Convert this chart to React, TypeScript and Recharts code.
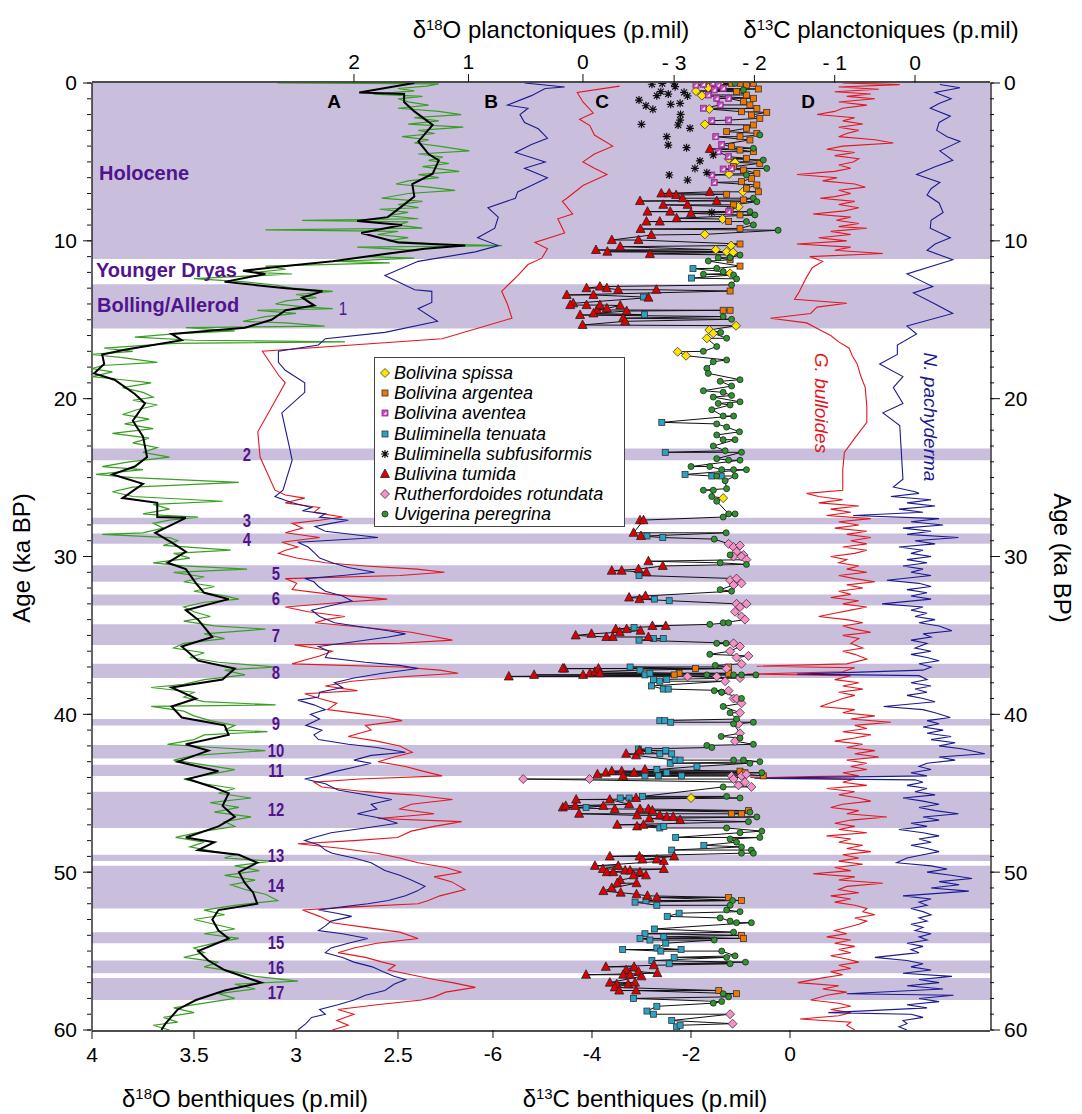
import React from 'react'
import { ComposedChart, Scatter, XAxis, YAxis, ReferenceArea } from 'recharts'

// [age (ka BP), value (p.mil)]
type P = [number, number]

const FONT = '"Liberation Sans", Arial, Helvetica, sans-serif'
const BAND = '#c9bfdd'
const PURPLE = '#50148c'
const RED = '#e3171f'
const BLUE = '#1b1b8f'
const GREEN = '#3a9e23'

const AGE_TICKS = [0, 10, 20, 30, 40, 50, 60]
const AGE_MINOR = Array.from({ length: 61 }, (_, i) => i)
const O18B_TICKS = [4, 3.5, 3, 2.5]
const C13B_TICKS = [-6, -4, -2, 0]
const O18P_TICKS = [2, 1, 0]
const C13P_TICKS = [-3, -2, -1, 0]

// shaded intervals (Holocene, Bolling/Allerod, events 2..17)
const BANDS: P[] = [
  [0, 11.15], [12.75, 15.55], [23.15, 23.9], [27.55, 27.95], [28.55, 29.2], [30.55, 31.6],
  [32.4, 33.1], [34.3, 35.6], [36.8, 37.7], [40.3, 40.7], [41.95, 42.8], [43.2, 43.9],
  [44.9, 47.2], [48.9, 49.3], [49.6, 52.3], [53.8, 54.5], [55.6, 56.4], [56.7, 58.1],
]

const EVENT_LABELS: [string, number, number][] = [
  ['2', 247, 454], ['3', 247, 520], ['4', 247, 539], ['5', 276, 573], ['6', 276, 598],
  ['7', 276, 635], ['8', 276, 672], ['9', 276, 723], ['10', 276, 750], ['11', 276, 770],
  ['12', 276, 809], ['13', 276, 855], ['14', 276, 885], ['15', 276, 942], ['16', 276, 967],
  ['17', 276, 992],
]

/* ------------------------------ A : d18O benthic ------------------------------ */

const o18BenthSmooth: P[] = [
  [0, 2.42], [0.6, 2.69], [0.7, 2.47], [1.2, 2.47], [1.8, 2.42], [2.65, 2.33], [3.7, 2.4],
  [4.5, 2.35], [4.9, 2.3], [5.75, 2.33], [6.4, 2.43], [7.2, 2.42], [7.8, 2.48], [8.5, 2.55],
  [8.75, 2.7], [9.0, 2.48], [9.5, 2.68], [10.1, 2.5], [10.3, 2.17], [10.5, 2.37], [10.9, 2.6],
  [11.3, 2.82], [11.6, 3.05], [11.9, 3.26], [12.1, 3.15], [12.6, 3.35], [13.0, 3.05],
  [13.2, 2.87], [13.6, 2.97], [14.1, 2.91], [14.4, 3.05], [15.0, 3.12], [15.5, 3.25],
  [15.9, 3.61], [16.3, 3.56], [16.9, 3.84], [17.2, 3.95], [17.8, 3.94], [18.4, 3.99],
  [18.8, 3.89], [19.7, 3.79], [20.3, 3.74], [21.4, 3.8], [22.4, 3.75], [23.7, 3.73],
  [24.3, 3.79], [24.8, 3.9], [25.4, 3.75], [26.3, 3.85], [26.6, 3.68], [27.5, 3.68],
  [27.55, 3.54], [28.5, 3.69], [29.1, 3.61], [29.7, 3.54], [30.4, 3.63], [30.8, 3.54],
  [31.7, 3.49], [32.3, 3.45], [32.7, 3.33], [33.4, 3.54], [34.0, 3.48], [35.1, 3.41],
  [35.7, 3.56], [36.6, 3.48], [37.1, 3.3], [37.8, 3.36], [38.3, 3.61], [39.0, 3.49],
  [39.5, 3.61], [40.2, 3.56], [40.7, 3.35], [41.3, 3.33], [41.9, 3.54], [42.3, 3.43],
  [43.0, 3.58], [43.6, 3.38], [44.1, 3.53], [44.6, 3.41], [45.0, 3.33], [45.8, 3.36],
  [46.5, 3.3], [47.1, 3.38], [47.8, 3.54], [48.1, 3.4], [48.6, 3.48], [48.9, 3.28],
  [49.4, 3.19], [50.0, 3.28], [50.7, 3.25], [51.3, 3.21], [52.0, 3.19], [52.4, 3.38],
  [53.0, 3.41], [53.7, 3.38], [54.2, 3.33], [55.0, 3.48], [55.6, 3.43], [56.2, 3.35],
  [57.0, 3.17], [57.5, 3.35], [58.1, 3.49], [58.7, 3.58], [59.6, 3.64], [60, 3.66],
]

const o18BenthRaw: P[] = [
  [0, 3.09], [0.05, 2.3], [0.2, 2.36], [0.35, 2.5], [0.5, 2.42], [0.7, 2.62], [0.85, 2.38],
  [1.0, 2.5], [1.2, 2.45], [1.4, 2.35], [1.6, 2.5], [1.8, 2.3], [2.0, 2.19], [2.2, 2.42],
  [2.4, 2.3], [2.6, 2.45], [2.8, 2.18], [3.0, 2.4], [3.2, 2.32], [3.4, 2.48], [3.6, 2.35],
  [3.8, 2.42], [4.0, 2.3], [4.3, 2.15], [4.5, 2.4], [4.7, 2.28], [4.9, 2.35], [5.1, 2.25],
  [5.3, 2.38], [5.6, 2.2], [5.8, 2.4], [6.0, 2.3], [6.2, 2.45], [6.4, 2.51], [6.6, 2.35],
  [6.8, 2.22], [7.0, 2.45], [7.3, 2.58], [7.5, 2.38], [7.7, 2.5], [7.9, 2.4], [8.0, 2.59],
  [8.2, 2.45], [8.4, 2.55], [8.6, 2.4], [8.7, 2.97], [8.8, 2.45], [9.0, 2.5], [9.2, 2.38],
  [9.3, 3.15], [9.4, 2.5], [9.6, 2.6], [9.8, 2.45], [10.0, 2.55], [10.2, 2.3], [10.3, 1.99],
  [10.4, 2.7], [10.6, 2.4], [10.8, 2.55], [11.0, 2.65], [11.1, 2.42], [11.3, 2.8], [11.4, 2.54],
  [11.6, 3.15], [11.8, 3.05], [12.0, 3.2], [12.1, 3.02], [12.4, 3.5], [12.6, 3.25], [12.8, 3.1],
  [13.0, 3.02], [13.2, 2.82], [13.4, 3.0], [13.6, 2.9], [13.8, 3.05], [14.0, 3.1], [14.2, 2.95],
  [14.3, 2.82], [14.4, 3.19], [14.6, 3.0], [14.8, 3.15], [15.1, 3.26], [15.2, 3.05], [15.4, 2.86],
  [15.5, 3.54], [15.7, 3.3], [15.9, 3.6], [16.1, 3.79], [16.3, 3.5], [16.4, 2.76], [16.5, 3.6],
  [16.8, 3.94], [17.0, 3.8], [17.2, 4.0], [17.4, 3.85], [17.7, 3.68], [17.9, 3.95], [18.1, 4.0],
  [18.3, 3.9], [18.6, 4.0], [18.8, 3.85], [19.0, 3.71], [19.3, 3.85], [19.6, 3.75], [19.9, 3.7],
  [20.1, 3.8], [20.4, 3.68], [20.7, 3.78], [21.0, 3.85], [21.3, 3.72], [21.6, 3.84], [21.9, 3.7],
  [22.2, 3.9], [22.5, 3.72], [22.8, 3.8], [23.1, 3.68], [23.4, 3.75], [23.7, 3.62], [24.0, 3.82],
  [24.3, 3.95], [24.5, 3.75], [24.8, 3.98], [25.0, 3.8], [25.3, 3.28], [25.6, 3.8], [25.9, 3.9],
  [26.2, 3.8], [26.5, 3.36], [26.7, 3.7], [27.0, 3.62], [27.3, 3.75], [27.4, 3.65], [27.5, 3.48],
  [27.7, 3.62], [27.9, 3.7], [28.2, 3.65], [28.5, 3.75], [28.6, 3.95], [28.8, 3.62], [29.0, 3.58],
  [29.3, 3.65], [29.6, 3.32], [29.8, 3.6], [30.1, 3.52], [30.4, 3.7], [30.6, 3.55], [30.8, 3.24],
  [31.0, 3.6], [31.3, 3.45], [31.6, 3.55], [31.9, 3.4], [32.2, 3.5], [32.5, 3.35], [32.7, 3.28],
  [32.9, 3.45], [33.2, 3.55], [33.5, 3.5], [33.8, 3.42], [34.1, 3.55], [34.4, 3.4], [34.6, 3.15],
  [34.9, 3.45], [35.2, 3.35], [35.5, 3.55], [35.8, 3.6], [36.1, 3.45], [36.4, 3.52], [36.7, 3.38],
  [37.0, 3.1], [37.2, 3.35], [37.5, 3.25], [37.8, 3.45], [38.1, 3.55], [38.3, 3.71], [38.6, 3.5],
  [38.9, 3.55], [39.2, 3.45], [39.4, 3.1], [39.5, 3.71], [39.8, 3.55], [40.1, 3.5], [40.4, 3.42],
  [40.7, 3.3], [41.0, 3.35], [41.1, 3.14], [41.3, 3.45], [41.6, 3.5], [41.9, 3.63], [42.1, 3.4],
  [42.3, 3.15], [42.6, 3.5], [42.9, 3.6], [43.2, 3.45], [43.5, 3.3], [43.8, 3.42], [44.1, 3.55],
  [44.4, 3.45], [44.7, 3.3], [45.0, 3.38], [45.3, 3.22], [45.6, 3.42], [45.9, 3.28], [46.2, 3.4],
  [46.5, 3.22], [46.8, 3.35], [47.1, 3.3], [47.4, 3.45], [47.8, 3.59], [48.1, 3.45], [48.4, 3.52],
  [48.7, 3.4], [48.9, 3.3], [49.1, 3.35], [49.3, 3.12], [49.6, 3.3], [49.9, 3.18], [50.2, 3.35],
  [50.5, 3.2], [50.8, 3.32], [51.1, 3.25], [51.4, 3.15], [51.8, 3.09], [52.1, 3.3], [52.4, 3.45],
  [52.7, 3.35], [53.0, 3.5], [53.3, 3.4], [53.6, 3.3], [53.9, 3.45], [54.2, 3.28], [54.5, 3.4],
  [54.8, 3.5], [55.1, 3.45], [55.4, 3.55], [55.7, 3.38], [56.0, 3.45], [56.3, 3.3], [56.6, 3.2],
  [56.9, 2.99], [57.1, 3.3], [57.4, 3.2], [57.7, 3.38], [58.0, 3.3], [58.3, 3.45], [58.6, 3.6],
  [58.9, 3.5], [59.2, 3.65], [59.5, 3.58], [59.7, 3.7], [60, 3.62],
]

/* --------------------------- B : d18O planktonic ----------------------------- */

const o18PachyB: P[] = [
  [0, 0.51], [0.25, 0.16], [0.35, 0.33], [0.8, 0.45], [1.4, 0.66], [1.6, 0.48], [2.0, 0.55],
  [2.5, 0.51], [2.9, 0.39], [3.5, 0.31], [3.9, 0.45], [4.4, 0.59], [5.0, 0.33], [5.4, 0.51],
  [6.0, 0.31], [6.5, 0.45], [6.9, 0.57], [7.3, 0.59], [7.9, 0.83], [8.5, 0.74], [9.2, 0.77],
  [9.8, 0.92], [10.3, 0.74], [10.7, 0.94], [11.3, 1.44], [12.2, 1.73], [13.1, 1.47], [13.2, 1.32],
  [13.9, 1.32], [14.3, 1.44], [15.1, 1.27], [15.8, 1.73], [16.2, 2.25], [16.6, 2.31], [17.0, 2.66],
  [17.7, 2.66], [18.2, 2.6], [19.0, 2.43], [19.6, 2.43], [20.9, 2.63], [23.2, 2.56], [23.9, 2.54],
  [25.8, 2.62], [26.2, 2.69], [26.6, 2.54], [26.9, 2.37], [27.1, 2.45], [27.3, 2.25], [27.5, 2.3],
  [27.7, 2.05], [27.9, 2.2], [28.1, 2.34], [28.4, 2.25], [28.8, 1.79], [29.1, 2.49], [29.4, 2.4],
  [29.8, 2.34], [30.1, 2.3], [30.4, 2.19], [30.7, 2.05], [31.0, 1.82], [31.2, 2.1], [31.4, 2.43],
  [31.6, 2.35], [31.9, 2.31], [32.2, 2.25], [32.5, 2.1], [32.8, 2.02], [33.1, 2.2], [33.4, 2.37],
  [33.8, 2.3], [34.2, 2.17], [34.5, 1.9], [34.7, 1.7], [34.9, 1.55], [35.1, 1.7], [35.4, 2.0],
  [35.7, 2.31], [36.0, 2.22], [36.4, 2.25], [36.7, 1.9], [36.9, 1.6], [37.1, 1.44], [37.4, 1.75],
  [37.7, 2.0], [38.0, 2.17], [38.3, 2.1], [38.6, 2.3], [38.9, 2.31], [39.1, 2.49], [39.4, 2.35],
  [39.7, 2.25], [40.0, 2.38], [40.3, 2.3], [40.7, 2.42], [41.0, 2.28], [41.3, 2.35], [41.6, 2.31],
  [41.9, 2.05], [42.1, 1.8], [42.4, 1.55], [42.6, 1.85], [42.9, 2.0], [43.1, 1.85], [43.3, 1.97],
  [43.6, 2.15], [43.9, 2.3], [44.1, 2.43], [44.4, 2.25], [44.8, 2.14], [45.1, 1.9], [45.4, 1.67],
  [45.7, 1.85], [46.0, 1.8], [46.3, 1.97], [46.6, 1.75], [46.9, 1.62], [47.2, 1.9], [47.5, 2.2],
  [47.8, 2.35], [48.0, 2.43], [48.3, 2.3], [48.6, 2.25], [48.8, 2.19], [49.1, 2.0], [49.4, 1.85],
  [49.9, 1.73], [50.2, 1.6], [50.5, 1.5], [50.9, 1.38], [51.2, 1.45], [51.5, 1.55], [51.8, 1.7],
  [52.0, 1.88], [52.2, 2.1], [52.4, 2.31], [52.6, 2.15], [52.8, 2.02], [53.1, 2.2], [53.4, 2.25],
  [53.7, 2.31], [53.9, 2.1], [54.2, 1.88], [54.5, 2.05], [54.8, 2.2], [55.1, 2.25], [55.4, 2.1],
  [55.7, 2.0], [56.0, 1.84], [56.3, 1.75], [56.6, 1.65], [56.8, 1.55], [57.1, 1.65], [57.5, 1.73],
  [57.8, 1.9], [58.1, 2.0], [58.4, 2.14], [58.7, 2.3], [59.0, 2.25], [59.2, 2.37], [59.6, 2.42],
  [60, 2.49],
]

const o18BullB: P[] = [
  [0.2, -0.32], [0.6, 0.05], [1.2, 0.0], [1.9, -0.09], [2.3, 0.03], [2.7, -0.06], [3.3, -0.1],
  [4.0, -0.26], [4.5, -0.1], [5.0, 0.0], [5.4, -0.1], [5.8, -0.21], [6.5, 0.0], [7.3, 0.14],
  [7.5, 0.18], [8.3, 0.09], [8.6, 0.22], [9.5, 0.16], [10.1, 0.42], [10.5, 0.31], [11.1, 0.36],
  [11.5, 0.48], [12.2, 0.57], [13.2, 0.71], [14.0, 0.66], [14.9, 0.62], [16.2, 1.23], [17.0, 2.8],
  [18.5, 2.66], [19.0, 2.6], [22.1, 2.84], [23.7, 2.82], [25.8, 2.69], [26.1, 2.6], [26.3, 2.43],
  [26.6, 2.6], [26.9, 2.3], [27.2, 2.35], [27.5, 2.1], [27.7, 2.3], [27.9, 2.54], [28.2, 2.45],
  [28.5, 2.6], [28.8, 2.3], [29.1, 2.63], [29.4, 2.49], [29.6, 2.6], [29.8, 2.66], [30.1, 2.5],
  [30.4, 2.25], [30.6, 1.9], [30.8, 1.45], [31.0, 1.21], [31.2, 1.6], [31.4, 2.6], [31.7, 2.5],
  [32.1, 2.54], [32.4, 2.2], [32.7, 1.71], [32.9, 2.1], [33.2, 2.6], [33.5, 2.4], [33.8, 2.08],
  [34.0, 2.25], [34.2, 2.34], [34.5, 1.9], [34.8, 1.5], [35.0, 1.35], [35.3, 1.14], [35.5, 1.6],
  [35.6, 2.52], [35.8, 2.35], [36.0, 2.19], [36.3, 2.3], [36.6, 2.45], [36.8, 2.54], [37.0, 1.6],
  [37.2, 1.25], [37.4, 1.09], [37.6, 1.55], [37.9, 2.02], [38.2, 2.25], [38.5, 1.97], [38.7, 2.43],
  [39.0, 2.3], [39.3, 2.15], [39.7, 2.23], [40.0, 1.9], [40.2, 1.7], [40.4, 1.58], [40.7, 1.9],
  [41.0, 1.85], [41.4, 2.05], [41.7, 1.8], [42.0, 1.6], [42.4, 1.49], [42.7, 1.65], [43.0, 1.79],
  [43.3, 1.55], [43.6, 1.4], [43.9, 1.23], [44.1, 1.95], [44.3, 2.35], [44.6, 2.28], [44.9, 1.9],
  [45.1, 1.5], [45.4, 1.14], [45.7, 1.5], [46.0, 1.6], [46.3, 1.3], [46.6, 1.79], [46.8, 1.06],
  [47.1, 1.3], [47.4, 1.5], [47.8, 1.62], [48.0, 2.0], [48.2, 2.49], [48.5, 2.1], [48.8, 1.8],
  [49.1, 1.6], [49.4, 1.44], [49.7, 1.2], [50.0, 1.06], [50.3, 1.3], [50.6, 1.15], [51.1, 1.03],
  [51.5, 1.25], [51.8, 1.35], [52.0, 1.44], [52.2, 2.0], [52.4, 2.45], [52.8, 2.3], [53.2, 2.19],
  [53.5, 1.9], [53.8, 1.6], [54.2, 1.44], [54.5, 1.8], [54.8, 2.0], [55.1, 2.14], [55.4, 1.9],
  [55.7, 1.75], [55.9, 1.64], [56.2, 1.7], [56.5, 1.5], [56.8, 1.3], [57.0, 1.14], [57.3, 0.94],
  [57.6, 1.2], [57.9, 1.3], [58.1, 1.41], [58.4, 1.8], [58.7, 2.14], [59.0, 2.0], [59.4, 2.15],
  [59.7, 2.05], [60, 2.19],
]

/* --------------------------- D : d13C planktonic ----------------------------- */

const c13BullD: P[] = [
  [0.0, -0.9], [0.1, -0.19], [0.25, -0.95], [0.4, -0.45], [0.55, -1.0], [0.7, -0.55], [0.85, -0.85],
  [1.0, -0.5], [1.2, -0.95], [1.4, -0.6], [1.6, -0.9], [1.8, -1.0], [2.0, -1.22], [2.2, -0.75],
  [2.4, -0.9], [2.6, -0.65], [2.8, -0.95], [3.0, -0.7], [3.2, -0.85], [3.4, -0.95], [3.6, -0.5],
  [3.8, -0.27], [4.0, -0.9], [4.2, -1.1], [4.4, -0.75], [4.6, -1.0], [4.8, -0.7], [5.0, -0.77],
  [5.2, -0.95], [5.4, -0.8], [5.6, -1.0], [5.8, -1.47], [6.0, -0.97], [6.2, -1.15], [6.4, -0.75],
  [6.6, -0.62], [6.8, -0.95], [7.0, -0.8], [7.2, -1.0], [7.3, -1.18], [7.5, -0.75], [7.7, -0.95],
  [7.9, -0.7], [8.1, -0.88], [8.3, -1.27], [8.5, -0.8], [8.7, -0.98], [8.9, -0.7], [9.1, -0.95],
  [9.2, -0.6], [9.4, -1.05], [9.6, -0.8], [9.8, -1.2], [10.0, -0.85], [10.2, -1.47], [10.4, -0.8],
  [10.6, -1.0], [10.8, -0.4], [11.0, -1.31], [11.3, -1.15], [11.7, -1.28], [12.3, -1.35],
  [12.8, -1.4], [13.3, -1.45], [13.7, -1.5], [13.95, -0.85], [14.2, -1.22], [14.6, -1.3],
  [14.9, -1.8], [15.2, -1.35], [15.6, -1.2], [16.0, -1.05], [16.4, -0.95], [16.8, -0.82],
  [17.3, -0.78], [17.8, -0.72], [18.5, -0.68], [19.3, -0.62], [20.5, -0.6], [21.5, -0.6],
  [22.5, -0.75], [23.4, -0.88], [24.5, -0.9], [25.8, -0.9], [26.0, -1.35], [26.2, -1.2],
  [26.4, -0.9], [26.6, -1.2], [26.8, -0.7], [27.0, -1.05], [27.2, -0.8], [27.4, -1.1], [27.6, -0.55],
  [27.8, -0.95], [28.0, -0.7], [28.2, -1.0], [28.4, -0.6], [28.6, -0.85], [28.8, -0.55], [29.0, -0.8],
  [29.2, -0.6], [29.4, -0.9], [29.6, -0.6], [29.8, -0.75], [30.0, -1.05], [30.2, -0.85], [30.4, -0.95],
  [30.6, -0.7], [30.8, -0.85], [31.0, -0.6], [31.2, -0.95], [31.4, -0.75], [31.6, -0.5], [31.8, -0.85],
  [32.0, -0.65], [32.2, -0.95], [32.4, -0.8], [32.6, -1.05], [32.8, -0.7], [33.0, -0.9], [33.2, -0.6],
  [33.4, -0.8], [33.6, -1.0], [33.8, -1.2], [34.0, -0.85], [34.2, -0.65], [34.4, -0.9], [34.6, -0.75],
  [34.8, -0.55], [35.0, -0.9], [35.2, -0.7], [35.5, -0.8], [35.8, -0.65], [36.0, -0.9], [36.2, -0.75],
  [36.5, -0.6], [36.8, -0.85], [36.95, -1.97], [37.05, -0.75], [37.3, -0.9], [37.45, -2.1],
  [37.55, -0.8], [37.8, -1.0], [38.0, -0.7], [38.2, -0.9], [38.4, -0.65], [38.6, -0.95], [38.8, -0.75],
  [39.0, -0.9], [39.5, -1.18], [39.7, -0.75], [39.9, -0.9], [40.1, -0.5], [40.3, -0.8], [40.5, -0.3],
  [40.7, -0.75], [40.9, -0.6], [41.1, -0.9], [41.3, -0.55], [41.5, -0.75], [41.7, -1.0], [41.9, -0.65],
  [42.1, -0.85], [42.3, -0.5], [42.5, -0.75], [42.7, -0.45], [42.9, -0.85], [43.1, -0.6], [43.3, -0.8],
  [43.5, -0.6], [43.7, -0.9], [43.9, -0.7], [44.0, -2.05], [44.1, -0.75], [44.3, -0.9], [44.5, -0.6],
  [44.7, -1.1], [44.9, -0.75], [45.1, -0.95], [45.3, -0.7], [45.5, -0.55], [45.7, -0.9], [45.9, -1.05],
  [46.1, -0.7], [46.3, -0.85], [46.5, -0.35], [46.7, -0.8], [46.9, -1.0], [47.1, -0.75], [47.3, -0.95],
  [47.5, -0.6], [47.7, -1.1], [47.9, -0.8], [48.1, -0.95], [48.3, -0.65], [48.5, -0.85], [48.7, -0.55],
  [48.9, -0.9], [49.1, -0.7], [49.3, -0.95], [49.5, -0.65], [49.7, -1.0], [49.9, -0.8], [50.1, -1.27],
  [50.3, -0.75], [50.5, -0.95], [50.7, -0.4], [50.9, -0.85], [51.1, -0.95], [51.3, -0.7], [51.5, -1.05],
  [51.7, -0.8], [51.9, -1.0], [52.1, -0.75], [52.3, -0.6], [52.5, -0.65], [52.7, -0.5], [52.9, -0.75],
  [53.1, -0.6], [53.3, -0.7], [53.5, -0.85], [53.7, -1.0], [53.9, -0.85], [54.1, -1.1], [54.3, -0.8],
  [54.5, -1.0], [54.7, -0.75], [54.9, -0.95], [55.1, -0.8], [55.3, -1.05], [55.5, -0.85], [55.7, -0.7],
  [55.9, -0.95], [56.1, -0.8], [56.3, -1.05], [56.5, -0.9], [56.7, -1.15], [57.0, -1.46], [57.2, -0.95],
  [57.4, -1.15], [57.6, -0.85], [57.8, -1.1], [58.1, -1.3], [58.3, -0.95], [58.5, -0.8], [58.7, -1.05],
  [58.9, -0.8], [59.1, -0.95], [59.3, -1.43], [59.5, -0.8], [59.7, -0.85], [60, -0.75],
]

const c13PachyD: P[] = [
  [0.1, 0.31], [0.3, 0.56], [0.6, 0.25], [1.0, 0.45], [1.3, 0.3], [1.6, 0.19], [2.1, 0.44],
  [2.5, 0.3], [3.0, 0.27], [3.4, 0.4], [3.7, 0.56], [4.3, 0.31], [4.9, 0.47], [5.3, 0.25],
  [5.8, 0.02], [6.3, 0.31], [6.7, 0.2], [7.1, 0.15], [7.6, 0.3], [8.2, 0.35], [8.7, 0.2],
  [9.2, 0.19], [9.8, 0.44], [10.2, 0.25], [10.6, 0.15], [11.2, 0.47], [12.1, -0.1], [12.9, 0.22],
  [13.3, -0.02], [14.0, 0.25], [14.6, 0.47], [15.4, -0.1], [15.9, 0.02], [16.6, -0.22],
  [17.2, -0.22], [17.8, -0.44], [18.6, -0.15], [19.3, -0.27], [20.3, -0.15], [20.9, -0.4],
  [21.7, -0.19], [25.1, -0.15], [25.6, -0.27], [25.9, 0.0], [26.0, 0.05], [26.2, -0.3], [26.4, 0.2],
  [26.6, -0.1], [26.8, 0.25], [27.0, -0.2], [27.2, 0.1], [27.4, -0.77], [27.6, 0.3], [27.8, -0.05],
  [28.0, 0.35], [28.2, -0.15], [28.4, 0.2], [28.6, -0.1], [28.8, 0.54], [29.0, 0.0], [29.2, 0.25],
  [29.4, -0.2], [29.6, 0.1], [29.8, -0.05], [30.0, 0.2], [30.2, -0.1], [30.4, 0.15], [30.6, -0.15],
  [30.8, 0.1], [31.0, -0.05], [31.2, 0.2], [31.5, -0.35], [31.7, 0.05], [31.9, 0.2], [32.1, -0.1],
  [32.3, 0.15], [32.5, -0.05], [32.7, 0.2], [33.0, -0.41], [33.2, 0.1], [33.4, -0.05], [33.6, 0.15],
  [33.8, 0.0], [34.0, 0.25], [34.2, 0.05], [34.4, 0.3], [34.7, 0.46], [34.9, 0.1], [35.1, 0.2],
  [35.3, -0.05], [35.5, 0.15], [35.8, 0.0], [36.0, 0.2], [36.2, -0.05], [36.4, 0.15], [36.6, 0.3],
  [36.8, 0.05], [37.0, 0.2], [37.2, 0.1], [37.45, -1.47], [37.55, 0.05], [37.8, 0.15], [38.0, -0.05],
  [38.2, 0.2], [38.4, 0.0], [38.6, 0.15], [38.8, -0.1], [39.0, 0.1], [39.2, 0.25], [39.5, -0.39],
  [39.7, 0.1], [39.9, 0.25], [40.2, 0.44], [40.4, 0.15], [40.6, 0.3], [40.8, 0.1], [41.0, 0.35],
  [41.2, 0.15], [41.4, 0.45], [41.6, 0.2], [41.8, 0.5], [42.0, 0.3], [42.2, 0.6], [42.5, 0.87],
  [42.7, 0.3], [42.9, 0.5], [43.1, 0.15], [43.3, 0.05], [43.5, 0.2], [43.7, -0.05], [43.9, 0.15],
  [44.05, -2.0], [44.15, 0.0], [44.3, 0.1], [44.5, -0.1], [44.7, 0.15], [44.9, 0.0], [45.1, 0.25],
  [45.3, -0.15], [45.5, 0.1], [45.7, 0.3], [45.9, 0.05], [46.1, 0.25], [46.3, 0.54], [46.5, 0.1],
  [46.7, 0.3], [46.9, -0.05], [47.1, 0.15], [47.3, -0.2], [47.5, 0.1], [47.7, 0.3], [47.9, 0.05],
  [48.1, 0.2], [48.3, -0.05], [48.5, 0.15], [48.7, 0.3], [48.9, 0.1], [49.1, -0.1], [49.4, -0.23],
  [49.6, 0.2], [49.8, 0.4], [50.0, 0.15], [50.2, 0.45], [50.4, 0.71], [50.6, 0.3], [50.8, 0.55],
  [51.0, 0.2], [51.2, 0.67], [51.5, -0.15], [51.7, 0.2], [51.9, 0.05], [52.1, 0.15], [52.3, -0.05],
  [52.5, 0.1], [52.7, 0.2], [52.9, 0.05], [53.1, 0.15], [53.3, -0.05], [53.5, 0.1], [53.7, 0.0],
  [53.9, 0.2], [54.1, 0.05], [54.3, 0.15], [54.5, -0.1], [54.7, 0.1], [54.9, -0.05], [55.1, 0.05],
  [55.4, -0.5], [55.6, -0.1], [55.8, 0.1], [56.0, -0.05], [56.2, 0.2], [56.4, -0.15], [56.6, 0.46],
  [56.8, 0.05], [57.0, 0.3], [57.2, -0.1], [57.4, 0.35], [57.7, -0.85], [57.8, 0.48], [58.0, 0.05],
  [58.2, 0.3], [58.4, -0.1], [58.6, 0.15], [58.9, -1.08], [59.0, -0.05], [59.2, 0.1], [59.4, -0.15],
  [59.6, -0.1], [59.8, -0.2], [60, -0.1],
]

/* ------------------------ C : d13C benthic, by species ------------------------ */

const spissa: P[] = [
  [0.02, -1.43], [0.3, -1.65], [0.51, -1.9], [0.8, -1.78], [1.65, -1.63], [2.62, -1.72], [4.8, -1.24],
  [5.03, -1.11], [5.77, -1.23], [6.89, -0.95], [7.84, -1.04], [8.62, -1.36], [9.59, -1.72],
  [10.3, -1.19], [10.56, -1.5], [10.69, -1.28], [10.73, -1.15], [12.06, -1.21], [15.38, -1.09],
  [15.65, -1.63], [15.86, -1.55], [16.18, -1.68], [17.03, -2.27], [17.28, -2.1], [26.3, -1.35],
  [45.3, -2.0],
]

const argentea: P[] = [
  [0.02, -1.18], [0.02, -1.01], [0.13, -0.88], [0.02, -0.74], [0.38, -0.64], [0.55, -1.08],
  [0.76, -0.88], [0.97, -0.74], [1.18, -0.94], [1.39, -0.81], [1.61, -0.67], [1.86, -0.47],
  [1.82, -0.98], [2.03, -0.78], [2.24, -0.61], [2.66, -0.74], [2.87, -0.88], [3.08, -1.28],
  [3.19, -0.67], [3.4, -1.01], [3.61, -0.81], [4.03, -1.18], [4.25, -1.01], [4.35, -0.74],
  [4.77, -0.88], [5.09, -0.61], [5.3, -1.14], [5.51, -0.94], [5.72, -0.67], [6.04, -0.78],
  [6.25, -0.98], [6.46, -0.67], [6.67, -0.88], [6.89, -0.64], [7.05, -1.28], [7.41, -0.94],
  [7.72, -1.14], [8.05, -1.21], [8.36, -1.01], [8.78, -1.24], [9.21, -1.01], [10.2, -1.01],
  [11.2, -1.21], [11.6, -1.01], [13.18, -1.21], [14.4, -1.35], [14.4, -1.21], [37.0, -1.24],
  [37.1, -1.91], [37.4, -2.24], [37.5, -2.34], [37.4, -1.24], [43.6, -1.01], [43.7, -0.91],
  [43.9, -0.54], [46.1, -0.84], [46.3, -1.18], [46.3, -0.98], [51.6, -1.24], [51.8, -0.98],
  [54.0, -0.98], [54.2, -0.94], [57.5, -1.44], [57.7, -1.08],
]

const aventea: P[] = [
  [0.13, -1.9], [0.08, -1.75], [0, -1.56], [0.13, -1.45], [0.44, -1.53], [0.34, -1.35], [0.76, -1.65],
  [0.97, -1.48], [0.97, -1.24], [1.39, -1.41], [1.6, -1.75], [2.35, -1.24], [2.39, -1.58], [3.4, -1.5],
  [3.89, -1.38], [4.35, -1.45], [4.67, -1.24], [5.45, -1.35], [5.41, -1.18], [5.83, -1.58],
  [6.3, -1.53], [8.15, -1.24],
]

const tenuata: P[] = [
  [11.76, -1.96], [12.36, -1.99], [13.56, -2.96], [14.68, -2.94], [21.5, -2.59], [23.4, -2.52],
  [24.8, -2.12], [24.9, -1.58], [24.9, -1.39], [28.7, -2.89], [28.8, -2.57], [31.2, -3.05],
  [32.7, -2.74], [32.8, -2.44], [34.5, -3.15], [35.3, -3.05], [35.2, -2.76], [35.2, -2.56],
  [37.0, -3.23], [37.2, -3.03], [37.5, -2.93], [37.4, -2.83], [37.8, -2.76], [37.9, -2.63],
  [37.8, -2.49], [38.2, -2.8], [38.4, -2.56], [38.4, -2.46], [40.4, -2.63], [40.4, -2.53],
  [40.5, -2.41], [42.2, -3.06], [42.3, -2.86], [42.5, -2.63], [42.3, -2.51], [42.5, -2.39],
  [43.1, -2.42], [42.9, -2.32], [42.9, -2.22], [43.3, -1.88], [43.5, -2.69], [43.7, -2.49],
  [43.9, -2.93], [43.9, -2.66], [43.9, -2.19], [45.3, -3.43], [45.3, -3.25], [45.2, -2.98],
  [45.9, -4.12], [47.2, -2.63], [47.1, -2.55], [47.8, -2.31], [48.3, -1.74], [48.6, -2.39],
  [51.9, -3.13], [51.8, -2.91], [52.1, -2.69], [52.8, -2.48], [52.6, -2.24], [53.6, -2.74],
  [53.9, -2.93], [54.2, -3.03], [54.3, -2.83], [54.1, -2.55], [54.8, -2.69], [54.5, -2.51],
  [55.0, -2.61], [54.9, -2.2], [54.9, -3.38], [55.4, -2.34], [55.8, -2.44], [55.6, -2.79],
  [58.0, -3.16], [58.5, -2.69], [58.8, -2.89], [59.0, -2.76], [59.4, -2.39], [59.8, -2.29],
  [59.7, -2.22],
]

const subfusiformis: P[] = [
  [0.08, -2.79], [0.03, -2.58], [0, -2.34], [0.23, -2.32], [0.55, -2.61], [0.8, -2.69], [0.7, -2.46],
  [0.59, -2.14], [0.82, -2.07], [1.08, -3.05], [1.44, -2.91], [1.67, -2.77], [1.35, -2.41],
  [1.29, -2.22], [1.99, -2.21], [2.35, -2.22], [2.66, -2.26], [2.87, -2.02], [2.62, -3.0],
  [3.4, -2.49], [3.93, -2.46], [4.1, -2.09], [4.56, -1.55], [4.94, -1.82], [5.41, -1.92],
  [5.68, -1.68], [5.83, -2.44], [6.15, -2.07], [8.2, -1.58],
]

const tumida: P[] = [
  [7.48, -3.03], [8.15, -2.88], [8.78, -2.9], [9.25, -3.02], [9.63, -2.8], [7.0, -2.6], [7.0, -2.44],
  [7.1, -2.3], [7.3, -2.17], [7.72, -2.07], [8.26, -2.0], [7.72, -2.56], [8.15, -2.42], [8.57, -2.29],
  [8.78, -2.63], [9.95, -3.6], [10.37, -3.43], [9.95, -3.06], [10.58, -3.92], [10.69, -3.69],
  [10.83, -2.83], [4.18, -1.62], [6.9, -1.62], [7.48, -1.48], [13.43, -4.51], [13.96, -4.38],
  [14.7, -4.24], [15.33, -4.19], [13.0, -4.11], [13.43, -3.97], [12.9, -3.84], [13.0, -3.7],
  [13.1, -3.47], [13.1, -2.7], [13.6, -2.86], [14.1, -3.43], [14.28, -3.7], [14.38, -3.9],
  [14.6, -3.97], [14.9, -3.37], [14.45, -3.3], [15.1, -3.33], [14.07, -4.44], [14.07, -4.11],
  [14.07, -3.84], [27.7, -3.03], [27.7, -2.96], [28.5, -3.16], [28.7, -3.01], [30.3, -2.86],
  [30.6, -2.57], [30.9, -3.6], [30.9, -3.4], [30.8, -3.06], [31.0, -2.9], [32.6, -3.25],
  [32.7, -3.04], [32.5, -2.92], [35.0, -4.33], [34.9, -4.01], [34.6, -3.52], [34.8, -3.44],
  [34.6, -3.3], [34.7, -3.02], [34.4, -2.78], [34.4, -2.51], [35.1, -3.71], [35.1, -3.58],
  [35.1, -2.86], [37.1, -4.56], [37.5, -4.18], [37.4, -4.04], [37.3, -3.94], [37.1, -3.87],
  [37.4, -3.84], [37.6, -5.68], [37.5, -5.17], [37.1, -4.59], [42.5, -3.31], [42.6, -3.11],
  [42.3, -3.04], [43.8, -3.89], [43.7, -3.72], [43.6, -3.6], [43.6, -3.4], [43.9, -3.37],
  [43.7, -3.15], [43.5, -2.93], [45.9, -4.59], [45.8, -4.53], [45.8, -4.34], [45.4, -4.32],
  [46.3, -4.26], [45.8, -3.77], [45.4, -3.64], [46.0, -3.54], [45.7, -3.25], [45.3, -3.11],
  [46.0, -3.03], [46.0, -2.86], [46.1, -2.78], [46.4, -3.09], [46.6, -2.84], [46.4, -2.63],
  [46.5, -2.49], [46.5, -2.36], [46.7, -2.22], [47.0, -3.49], [47.1, -3.09], [47.0, -2.96],
  [49.0, -3.64], [49.0, -3.04], [49.0, -2.34], [49.2, -2.98], [49.2, -2.69], [49.3, -2.55],
  [49.6, -3.94], [49.8, -3.78], [50.0, -3.7], [50.0, -3.57], [49.6, -3.47], [49.9, -3.33],
  [49.9, -3.23], [50.2, -3.16], [50.0, -3.03], [50.2, -2.91], [49.8, -2.55], [50.5, -3.43],
  [51.0, -3.6], [51.2, -3.77], [50.7, -3.49], [51.3, -3.42], [50.7, -3.1], [51.4, -3.1],
  [51.5, -2.88], [51.6, -2.69], [56.0, -3.72], [56.2, -3.31], [56.0, -3.15], [56.3, -3.06],
  [55.9, -2.75], [56.4, -2.68], [56.5, -4.12], [56.5, -3.37], [56.5, -3.23], [56.6, -3.0],
  [57.0, -3.64], [57.1, -3.5], [57.1, -3.27], [57.0, -3.13], [57.3, -3.54], [57.5, -3.45],
  [57.5, -3.11],
]

const rotundata: P[] = [
  [29.2, -1.24], [29.4, -1.14], [29.3, -1.01], [29.7, -1.08], [29.9, -0.94], [30.0, -1.14],
  [30.0, -0.98], [30.2, -0.88], [31.5, -1.21], [31.4, -1.08], [31.7, -0.98], [31.8, -1.14],
  [33.0, -1.08], [33.2, -1.01], [33.0, -0.88], [33.5, -1.11], [33.8, -0.98], [34.0, -0.91],
  [35.5, -1.14], [35.7, -1.01], [36.0, -1.21], [36.4, -1.08], [36.3, -0.84], [36.8, -0.98],
  [37.1, -1.28], [37.6, -1.48], [37.9, -1.31], [37.7, -1.01], [38.5, -1.24], [39.0, -1.14],
  [37.6, -2.07], [39.0, -1.08], [39.3, -0.98], [39.9, -1.01], [40.6, -1.04], [41.2, -1.01],
  [41.7, -1.11], [43.9, -1.18], [43.9, -0.98], [43.8, -0.88], [44.6, -0.78], [44.3, -0.91],
  [44.5, -1.04], [44.1, -1.14], [44.1, -4.05], [44.1, -5.39], [59.0, -1.21], [59.6, -1.16],
]

const peregrina: P[] = [
  [0.02, -1.11], [0.44, -0.94], [3.29, -0.61], [4.14, -0.74], [4.88, -0.54], [5.41, -0.47],
  [5.83, -0.88], [7.3, -0.74], [7.52, -0.67], [8.15, -0.81], [8.36, -0.71], [8.78, -0.88],
  [8.99, -0.74], [9.33, -0.24], [10.9, -1.01], [11.07, -1.21], [11.07, -1.45], [11.28, -1.65],
  [12.12, -1.75], [11.74, -1.48], [11.95, -1.35], [12.16, -1.14], [12.41, -1.08], [12.79, -1.18],
  [14.8, -1.35], [14.97, -1.18], [15.8, -1.4], [16.17, -1.28], [17.0, -1.75], [16.7, -1.48],
  [17.55, -1.28], [17.66, -1.55], [18.08, -1.68], [18.4, -1.65], [18.9, -1.41], [18.8, -1.01],
  [19.2, -1.18], [19.5, -1.75], [19.9, -1.55], [19.6, -1.35], [19.8, -1.18], [20.3, -1.45],
  [20.4, -1.21], [20.2, -1.01], [20.7, -1.58], [21.1, -1.35], [21.1, -1.14], [21.6, -1.48],
  [21.8, -1.28], [22.1, -1.02], [22.3, -1.48], [22.6, -1.35], [22.6, -1.11], [23.0, -1.55],
  [23.3, -1.31], [23.4, -0.98], [23.8, -1.48], [23.9, -1.24], [23.9, -1.01], [24.3, -2.0],
  [24.3, -1.62], [24.5, -1.38], [24.5, -1.14], [24.5, -0.88], [24.9, -1.48], [25.2, -1.31],
  [24.9, -1.11], [25.8, -1.75], [25.8, -1.55], [25.7, -1.28], [26.2, -1.58], [26.5, -1.48],
  [27.3, -1.24], [27.3, -1.11], [27.5, -1.35], [28.9, -1.53], [28.5, -1.29], [30.4, -1.41],
  [30.5, -0.88], [29.9, -1.21], [32.1, -1.41], [32.2, -1.18], [34.3, -1.62], [34.2, -1.35],
  [34.2, -1.24], [35.5, -1.48], [35.5, -1.29], [36.2, -1.62], [36.9, -1.51], [37.5, -1.14],
  [37.5, -0.98], [37.5, -0.69], [37.5, -1.68], [38.5, -1.53], [38.6, -1.38], [38.6, -1.38],
  [38.99, -0.98], [39.5, -1.35], [39.9, -1.21], [40.3, -1.08], [40.6, -1.14], [40.5, -0.74],
  [41.5, -1.01], [41.4, -1.39], [41.97, -1.68], [42.1, -1.58], [41.9, -0.74], [42.9, -1.14],
  [42.9, -0.94], [43.1, -0.81], [43.0, -0.61], [43.7, -0.57], [44.6, -1.35], [45.2, -1.28],
  [45.3, -1.01], [46.2, -0.81], [46.5, -0.67], [46.8, -0.84], [47.2, -1.28], [47.5, -1.01],
  [47.4, -0.57], [47.9, -1.21], [47.8, -0.61], [48.1, -1.08], [48.4, -0.98], [48.6, -0.78],
  [48.8, -0.74], [48.8, -0.98], [51.8, -1.16], [52.1, -1.21], [52.4, -1.28], [52.5, -1.01],
  [52.9, -1.41], [53.1, -1.21], [53.2, -1.08], [53.2, -0.78], [53.8, -1.14], [54.3, -1.53],
  [55.0, -1.38], [55.4, -1.28], [55.3, -1.11], [55.7, -0.9], [55.8, -1.21], [57.7, -1.35],
  [57.9, -1.24], [58.3, -1.55], [58.2, -1.38],
]

/* ---------------------------------- helpers ---------------------------------- */

const pts = (arr: P[]) => arr.map(([age, v]) => ({ age, v }))
const none = () => <g />

const fmtPlanctC = (v: number) => (v < 0 ? `- ${Math.abs(v)}` : `${v}`)

type MarkFn = (cx: number, cy: number) => React.ReactElement

const markDiamond = (fill: string): MarkFn => (cx, cy) => (
  <path d={`M${cx},${cy - 4.5}L${cx + 4.5},${cy}L${cx},${cy + 4.5}L${cx - 4.5},${cy}Z`} fill={fill} stroke="#333" strokeWidth={0.8} />
)
const markSquare = (fill: string): MarkFn => (cx, cy) => (
  <rect x={cx - 3} y={cy - 3} width={6} height={6} fill={fill} stroke="#333" strokeWidth={0.8} />
)
const markAventea: MarkFn = (cx, cy) => (
  <g>
    <rect x={cx - 3} y={cy - 3} width={6} height={6} fill="#c64fbe" stroke="#8a2a88" strokeWidth={0.8} />
    <path d={`M${cx - 1.5},${cy + 1.5}L${cx + 1.5},${cy - 1.5}L${cx + 1.5},${cy + 1.5}Z`} fill="#fff" />
  </g>
)
const markTriangle: MarkFn = (cx, cy) => (
  <path d={`M${cx},${cy - 5}L${cx + 4.5},${cy + 3.5}L${cx - 4.5},${cy + 3.5}Z`} fill="#dd0000" stroke="#222" strokeWidth={0.8} />
)
const markCircle: MarkFn = (cx, cy) => <circle cx={cx} cy={cy} r={3} fill="#2f962f" stroke="#222" strokeWidth={0.8} />
const markStar: MarkFn = (cx, cy) => (
  <path
    d={`M${cx - 4},${cy}L${cx + 4},${cy}M${cx},${cy - 4}L${cx},${cy + 4}M${cx - 3},${cy - 3}L${cx + 3},${cy + 3}M${cx - 3},${cy + 3}L${cx + 3},${cy - 3}`}
    stroke="#111"
    strokeWidth={1.2}
  />
)

const SPECIES: { name: string; data: P[]; mark: MarkFn }[] = [
  { name: 'Bolivina spissa', data: spissa, mark: markDiamond('#ffe400') },
  { name: 'Bolivina argentea', data: argentea, mark: markSquare('#f07800') },
  { name: 'Bolivina aventea', data: aventea, mark: markAventea },
  { name: 'Buliminella tenuata', data: tenuata, mark: markSquare('#2aa3c6') },
  { name: 'Buliminella subfusiformis', data: subfusiformis, mark: markStar },
  { name: 'Bulivina tumida', data: tumida, mark: markTriangle },
  { name: 'Rutherfordoides rotundata', data: rotundata, mark: markDiamond('#f590c8') },
  { name: 'Uvigerina peregrina', data: peregrina, mark: markCircle },
]

// one black path through all the dated samples (the asterisks stand alone)
const benthicLink = pts(
  [spissa, argentea, aventea, tenuata, tumida, rotundata, peregrina].flat().sort((a, b) => a[0] - b[0]),
)

const shapeOf = (mark: MarkFn) => (props: any) => (props.cx == null ? <g /> : mark(props.cx, props.cy))

/* ---------------------------------- overlay ---------------------------------- */

const Txt = ({ x, y, style, children }: { x: number; y: number; style?: React.CSSProperties; children: React.ReactNode }) => (
  <div
    style={{
      position: 'absolute',
      left: x,
      top: y,
      transform: 'translate(-50%, -50%)',
      whiteSpace: 'nowrap',
      lineHeight: 1,
      fontFamily: FONT,
      ...style,
    }}
  >
    {children}
  </div>
)

const Sup = ({ children }: { children: React.ReactNode }) => (
  <span style={{ fontSize: '0.62em', position: 'relative', top: '-0.55em' }}>{children}</span>
)

const TICK = { fontSize: 21, fill: '#000', fontFamily: FONT }
const AXIS_LINE = { stroke: '#111', strokeWidth: 1.3 }
const TICK_LINE = { stroke: '#111' }
const noLabel = () => <g />

// each axis is 1px thick, so two axes per side take 2px off each margin
export default function App() {
  return (
    <div style={{ position: 'absolute', left: 0, top: 0, width: 1082, height: 1114, background: '#fff', overflow: 'hidden' }}>
      <ComposedChart width={1082} height={1114} margin={{ top: 81, right: 90, bottom: 82, left: 90 }}>
        <YAxis yAxisId="age" dataKey="age" type="number" domain={[0, 60]} reversed allowDataOverflow ticks={AGE_TICKS}
          width={1} tickSize={9} tickMargin={6} tick={TICK} axisLine={AXIS_LINE} tickLine={TICK_LINE} interval={0} />
        <YAxis yAxisId="ageMinorL" type="number" domain={[0, 60]} reversed allowDataOverflow ticks={AGE_MINOR}
          width={1} tickSize={4} tick={noLabel} axisLine={false} tickLine={TICK_LINE} interval={0} />
        <YAxis yAxisId="ageR" orientation="right" type="number" domain={[0, 60]} reversed allowDataOverflow ticks={AGE_TICKS}
          width={1} tickSize={9} tickMargin={4} tick={TICK} axisLine={AXIS_LINE} tickLine={TICK_LINE} interval={0} />
        <YAxis yAxisId="ageMinorR" orientation="right" type="number" domain={[0, 60]} reversed allowDataOverflow ticks={AGE_MINOR}
          width={1} tickSize={4} tick={noLabel} axisLine={false} tickLine={TICK_LINE} interval={0} />

        <XAxis xAxisId="o18b" dataKey="v" type="number" domain={[-0.402, 4]} reversed allowDataOverflow ticks={O18B_TICKS}
          height={1} tickSize={8} tickMargin={8} tick={TICK} axisLine={AXIS_LINE} tickLine={TICK_LINE} interval={0} />
        <XAxis xAxisId="c13b" dataKey="v" type="number" domain={[-14.1, 4.04]} allowDataOverflow ticks={C13B_TICKS}
          height={1} tickSize={8} tickMargin={8} tick={TICK} axisLine={false} tickLine={TICK_LINE} interval={0} />
        <XAxis xAxisId="o18p" dataKey="v" orientation="top" type="number" domain={[-3.555, 4.288]} reversed allowDataOverflow
          ticks={O18P_TICKS} height={1} tickSize={8} tickMargin={5} tick={TICK} axisLine={AXIS_LINE} tickLine={TICK_LINE} interval={0} />
        <XAxis xAxisId="c13p" dataKey="v" orientation="top" type="number" domain={[-10.25, 0.934]} allowDataOverflow
          ticks={C13P_TICKS} tickFormatter={fmtPlanctC} height={1} tickSize={8} tickMargin={5} tick={TICK} axisLine={false}
          tickLine={TICK_LINE} interval={0} />

        {BANDS.map(([a, b]) => (
          <ReferenceArea key={a} xAxisId="c13b" yAxisId="age" y1={a} y2={b} fill={BAND} fillOpacity={1} stroke="none" ifOverflow="hidden" />
        ))}

        {/* A */}
        <Scatter xAxisId="o18b" yAxisId="age" data={pts(o18BenthRaw)} line={{ stroke: GREEN, strokeWidth: 1.2 }} shape={none} isAnimationActive={false} />
        <Scatter xAxisId="o18b" yAxisId="age" data={pts(o18BenthSmooth)} line={{ stroke: '#000', strokeWidth: 2 }} shape={none} isAnimationActive={false} />

        {/* B */}
        <Scatter xAxisId="o18p" yAxisId="age" data={pts(o18BullB)} line={{ stroke: RED, strokeWidth: 1.1 }} shape={none} isAnimationActive={false} />
        <Scatter xAxisId="o18p" yAxisId="age" data={pts(o18PachyB)} line={{ stroke: BLUE, strokeWidth: 1.1 }} shape={none} isAnimationActive={false} />

        {/* D */}
        <Scatter xAxisId="c13p" yAxisId="age" data={pts(c13BullD)} line={{ stroke: RED, strokeWidth: 1.1 }} shape={none} isAnimationActive={false} />
        <Scatter xAxisId="c13p" yAxisId="age" data={pts(c13PachyD)} line={{ stroke: BLUE, strokeWidth: 1.1 }} shape={none} isAnimationActive={false} />

        {/* C */}
        <Scatter xAxisId="c13b" yAxisId="age" data={benthicLink} line={{ stroke: '#111', strokeWidth: 1 }} shape={none} isAnimationActive={false} />
        {SPECIES.map((s) => (
          <Scatter key={s.name} xAxisId="c13b" yAxisId="age" data={pts(s.data)} shape={shapeOf(s.mark)} isAnimationActive={false} />
        ))}
      </ComposedChart>

      {/* axis titles */}
      <Txt x={551} y={30} style={{ fontSize: 24 }}>&delta;<Sup>18</Sup>O planctoniques (p.mil)</Txt>
      <Txt x={881} y={30} style={{ fontSize: 24 }}>&delta;<Sup>13</Sup>C planctoniques (p.mil)</Txt>
      <Txt x={245} y={1099} style={{ fontSize: 24 }}>&delta;<Sup>18</Sup>O benthiques (p.mil)</Txt>
      <Txt x={645} y={1099} style={{ fontSize: 24 }}>&delta;<Sup>13</Sup>C benthiques (p.mil)</Txt>
      <Txt x={22} y={558} style={{ fontSize: 24, transform: 'translate(-50%, -50%) rotate(-90deg)' }}>Age (ka BP)</Txt>
      <Txt x={1062} y={558} style={{ fontSize: 24, transform: 'translate(-50%, -50%) rotate(90deg)' }}>Age (ka BP)</Txt>

      {/* column letters */}
      {[['A', 334], ['B', 491], ['C', 602], ['D', 808]].map(([t, x]) => (
        <Txt key={t as string} x={x as number} y={101} style={{ fontSize: 19, fontWeight: 700 }}>{t}</Txt>
      ))}

      {/* period names */}
      <div style={{ position: 'absolute', left: 99, top: 163, fontFamily: FONT, fontWeight: 700, fontSize: 20, color: PURPLE, lineHeight: 1 }}>Holocene</div>
      <div style={{ position: 'absolute', left: 96, top: 260, fontFamily: FONT, fontWeight: 700, fontSize: 20, color: PURPLE, lineHeight: 1 }}>Younger Dryas</div>
      <div style={{ position: 'absolute', left: 97, top: 295, fontFamily: FONT, fontWeight: 700, fontSize: 20, color: PURPLE, lineHeight: 1 }}>Bolling/Allerod</div>
      <Txt x={343} y={308} style={{ fontSize: 19, color: PURPLE, transform: 'translate(-50%, -50%) scaleX(0.8)' }}>1</Txt>
      {EVENT_LABELS.map(([t, x, y]) => (
        <Txt key={t} x={x} y={y} style={{ fontSize: 19, fontWeight: 700, color: PURPLE, transform: 'translate(-50%, -50%) scaleX(0.78)' }}>{t}</Txt>
      ))}

      {/* species names on D */}
      <Txt x={821} y={403} style={{ fontSize: 19, fontStyle: 'italic', color: RED, transform: 'translate(-50%, -50%) rotate(90deg)' }}>G. bulloides</Txt>
      <Txt x={930} y={417} style={{ fontSize: 19, fontStyle: 'italic', color: BLUE, transform: 'translate(-50%, -50%) rotate(90deg)' }}>N. pachyderma</Txt>

      {/* legend */}
      <div style={{ position: 'absolute', left: 374, top: 357, width: 249, height: 168, background: '#fff', border: '1px solid #444', fontFamily: FONT }}>
        {SPECIES.map((s, i) => (
          <div key={s.name} style={{ position: 'absolute', left: 3, top: 5 + i * 20.2, height: 20, display: 'flex', alignItems: 'center' }}>
            <svg width={14} height={14} style={{ marginRight: 2 }}>{s.mark(7, 7)}</svg>
            <span style={{ fontSize: 18, fontStyle: 'italic', lineHeight: 1 }}>{s.name}</span>
          </div>
        ))}
      </div>
    </div>
  )
}
